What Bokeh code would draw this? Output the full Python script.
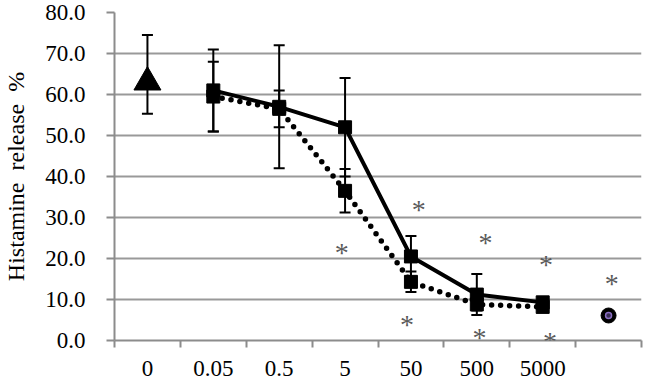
from bokeh.plotting import figure
from bokeh.models import (ColumnDataSource, FixedTicker, NumeralTickFormatter,
                          Range1d, Whisker, TeeHead, LabelSet)
from bokeh.embed import file_html
from bokeh.resources import INLINE

# ---- data ----
categories = ["0", "0.05", "0.5", "5", "50", "500", "5000", ""]

# control (triangle) at category "0"
ctrl_idx = [0]
ctrl_val = [63.0]
ctrl_upper = [74.5]
ctrl_lower = [55.3]

# solid series (squares, solid line)
solid_idx = [1, 2, 3, 4, 5, 6]
solid_val = [61.0, 57.0, 52.0, 20.5, 11.2, 9.3]
solid_err = [10.0, 15.0, 12.0, 5.0, 5.0, 1.0]

# dotted series (squares, dotted line)
dot_idx = [1, 2, 3, 4, 5, 6]
dot_val = [59.5, 56.5, 36.5, 14.3, 8.8, 8.2]
dot_err = [8.5, 4.5, 5.3, 2.5, 1.5, 0.8]

# last category (circle)
circ_idx = [7]
circ_val = [6.1]

# significance asterisks (category position, value)
ast_pos = [3.45, 4.62, 5.63, 6.55, 7.55, 4.44, 5.54, 6.61]
ast_val = [22.5, 33.0, 25.0, 19.6, 15.0, 5.0, 1.8, 0.8]

y_ticks = [0, 10, 20, 30, 40, 50, 60, 70, 80]

FONT = "Liberation Serif"
GRID = "#999999"
AXIS = "#8c8c8c"

def cx(idx):
    return [i + 0.5 for i in idx]

p = figure(width=645, height=390, output_backend="svg", toolbar_location=None,
           x_range=Range1d(0, len(categories)), y_range=Range1d(0, 80),
           min_border_left=107, min_border_right=4, min_border_top=12,
           min_border_bottom=50)
p.outline_line_color = None
p.background_fill_color = "white"
p.border_fill_color = "white"

# axes
p.xaxis.ticker = FixedTicker(ticks=cx(range(len(categories))),
                             minor_ticks=list(range(len(categories) + 1)))
p.xaxis.major_label_overrides = {i + 0.5: c for i, c in enumerate(categories)}
p.xaxis.major_tick_line_color = None
p.xaxis.minor_tick_line_color = AXIS
p.xaxis.minor_tick_line_width = 2
p.xaxis.minor_tick_out = 7
p.xaxis.minor_tick_in = 0
p.xaxis.axis_line_color = AXIS
p.xaxis.axis_line_width = 2
p.xaxis.major_label_text_font = FONT
p.xaxis.major_label_text_font_size = "23px"
p.xaxis.major_label_text_color = "black"
p.xaxis.major_label_standoff = 13

p.yaxis.ticker = FixedTicker(ticks=y_ticks, minor_ticks=[])
p.yaxis.formatter = NumeralTickFormatter(format="0.0")
p.yaxis.major_tick_line_color = AXIS
p.yaxis.major_tick_line_width = 2
p.yaxis.major_tick_out = 8
p.yaxis.major_tick_in = 0
p.yaxis.axis_line_color = AXIS
p.yaxis.axis_line_width = 2
p.yaxis.major_label_text_font = FONT
p.yaxis.major_label_text_font_size = "23px"
p.yaxis.major_label_text_color = "black"
p.yaxis.major_label_standoff = 21
p.yaxis.axis_label = "Histamine\u00a0\u00a0release\u00a0\u00a0%"
p.yaxis.axis_label_text_font = FONT
p.yaxis.axis_label_text_font_size = "24px"
p.yaxis.axis_label_text_font_style = "normal"
p.yaxis.axis_label_text_color = "black"
p.yaxis.axis_label_standoff = 13

p.xgrid.grid_line_color = None
p.ygrid.ticker = FixedTicker(ticks=y_ticks)
p.ygrid.grid_line_color = GRID
p.ygrid.grid_line_width = 2

# error bars
def add_whisker(idx, upper, lower):
    src = ColumnDataSource(dict(x=cx(idx), upper=upper, lower=lower))
    w = Whisker(source=src, base="x", upper="upper", lower="lower",
                line_color="black", line_width=2,
                upper_head=TeeHead(size=11, line_color="black", line_width=2),
                lower_head=TeeHead(size=11, line_color="black", line_width=2))
    p.add_layout(w)

add_whisker(ctrl_idx, ctrl_upper, ctrl_lower)
add_whisker(solid_idx, [v + e for v, e in zip(solid_val, solid_err)],
            [v - e for v, e in zip(solid_val, solid_err)])
add_whisker(dot_idx, [v + e for v, e in zip(dot_val, dot_err)],
            [v - e for v, e in zip(dot_val, dot_err)])

# dotted series
p.line(cx(dot_idx), dot_val, line_color="black", line_width=5.5,
       line_dash="0 9", line_cap="round")
p.scatter(cx(dot_idx), dot_val, marker="square", size=13,
          fill_color="black", line_color="black")

# solid series
p.line(cx(solid_idx), solid_val, line_color="black", line_width=4)
p.scatter(cx(solid_idx), solid_val, marker="square", size=13,
          fill_color="black", line_color="black")

# control triangle
p.scatter(cx(ctrl_idx), ctrl_val, marker="triangle", size=27,
          fill_color="black", line_color="black")

# circle
p.scatter(cx(circ_idx), circ_val, marker="circle", size=15,
          fill_color="black", line_color="black")
p.scatter(cx(circ_idx), circ_val, marker="circle", size=6,
          fill_color="#3a2f55", line_color="#8b6fc4", line_width=1.5)

# asterisks (annotation labels, not clipped by the frame)
ast_src = ColumnDataSource(dict(x=ast_pos, y=ast_val, t=["*"] * len(ast_pos)))
p.add_layout(LabelSet(x="x", y="y", text="t", source=ast_src,
                      text_font=FONT, text_font_size="28px",
                      text_color="#5a5a5a", text_align="center",
                      text_baseline="middle", y_offset=-4))

open("out.html", "w").write(file_html(p, INLINE))
